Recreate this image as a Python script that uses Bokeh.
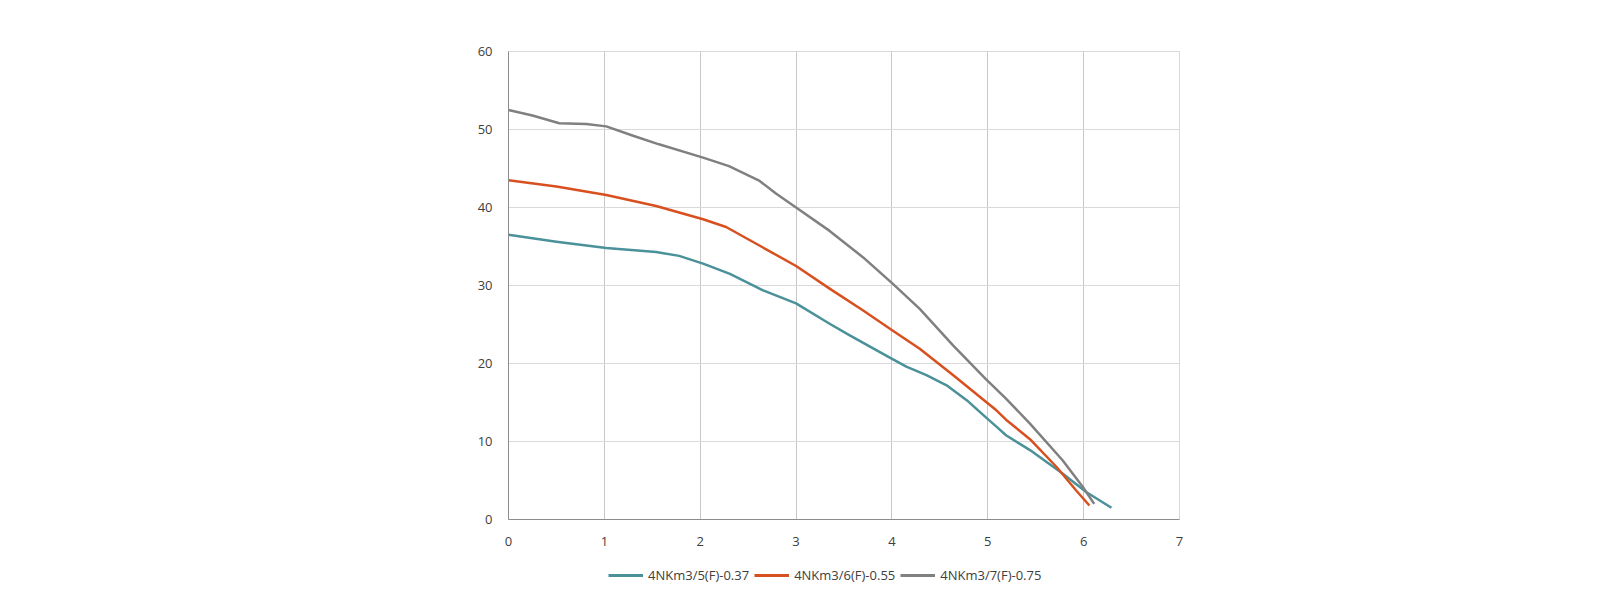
from bokeh.plotting import figure
from bokeh.models import Legend, LegendItem, Range1d, FixedTicker
from bokeh.layouts import column
from bokeh.embed import file_html
from bokeh.resources import INLINE

# Data
teal_x = [0, 0.5, 1.02, 1.54, 1.78, 2.03, 2.31, 2.65, 3.0, 3.35, 3.56, 3.94, 4.15, 4.36, 4.57, 4.78, 4.98, 5.09, 5.19, 5.44, 5.78, 6.03, 6.29]
teal_y = [36.5, 35.6, 34.8, 34.3, 33.8, 32.8, 31.5, 29.4, 27.7, 25.1, 23.6, 21.0, 19.6, 18.5, 17.2, 15.3, 13.1, 11.9, 10.8, 8.9, 5.9, 3.5, 1.5]

red_x = [0, 0.5, 1.02, 1.54, 2.03, 2.27, 2.65, 3.0, 3.35, 3.70, 4.01, 4.29, 4.64, 4.98, 5.09, 5.19, 5.44, 5.72, 5.92, 6.06]
red_y = [43.5, 42.7, 41.6, 40.2, 38.5, 37.5, 34.9, 32.5, 29.6, 26.8, 24.2, 21.9, 18.5, 15.1, 14.0, 12.8, 10.3, 6.7, 3.75, 1.8]

gray_x = [0, 0.25, 0.53, 0.81, 1.02, 1.30, 1.57, 2.03, 2.30, 2.62, 2.79, 3.0, 3.35, 3.70, 4.01, 4.29, 4.64, 4.98, 5.19, 5.44, 5.78, 5.99, 6.11]
gray_y = [52.5, 51.8, 50.8, 50.7, 50.4, 49.2, 48.1, 46.4, 45.3, 43.4, 41.8, 40.0, 37.0, 33.6, 30.2, 27.0, 22.3, 18.0, 15.5, 12.3, 7.6, 4.2, 2.0]

names = ["4NKm3/5(F)-0.37", "4NKm3/6(F)-0.55", "4NKm3/7(F)-0.75"]
colors = ["#4a9199", "#d8501f", "#808080"]
x_ticks = [0, 1, 2, 3, 4, 5, 6, 7]
y_ticks = [0, 10, 20, 30, 40, 50, 60]

FONT = "Open Sans"

p = figure(width=1584, height=560, output_backend="svg", toolbar_location=None,
           x_range=Range1d(0, 7), y_range=Range1d(0, 60),
           min_border_left=508, min_border_right=405, min_border_top=51, min_border_bottom=41)
p.outline_line_color = "#d9d9d9"

for ax in (p.xaxis[0], p.yaxis[0]):
    ax.major_tick_line_color = None
    ax.minor_tick_line_color = None
    ax.major_label_text_font = FONT
    ax.major_label_text_font_size = "13px"
    ax.major_label_text_color = "#404040"
    ax.axis_label_standoff = 0
p.xaxis.ticker = FixedTicker(ticks=x_ticks)
p.yaxis.ticker = FixedTicker(ticks=y_ticks)
p.xaxis.axis_line_color = "#8c8c8c"
p.yaxis.axis_line_color = "#8c8c8c"
p.xaxis.major_label_standoff = 11
p.yaxis.major_label_standoff = 10

p.xgrid.grid_line_color = "#c8c8c8"
p.ygrid.grid_line_color = "#d9d9d9"
p.xgrid.ticker = FixedTicker(ticks=x_ticks)
p.ygrid.ticker = FixedTicker(ticks=y_ticks)

p.line(teal_x, teal_y, line_color=colors[0], line_width=2.5, line_join="round")
p.line(red_x, red_y, line_color=colors[1], line_width=2.5, line_join="round")
p.line(gray_x, gray_y, line_color=colors[2], line_width=2.5, line_join="round")

# Legend strip below the chart
lg = figure(width=1584, height=40, output_backend="svg", toolbar_location=None,
            x_range=Range1d(0, 1), y_range=Range1d(0, 1),
            x_axis_location=None, y_axis_location=None,
            min_border_left=508, min_border_right=405, min_border_top=0, min_border_bottom=0)
lg.outline_line_color = None
lg.xgrid.visible = False
lg.ygrid.visible = False
items = []
nan = float("nan")
for name, c in zip(names, colors):
    r = lg.line(x=[nan], y=[nan], line_color=c, line_width=3)
    items.append(LegendItem(label=name, renderers=[r]))

legend = Legend(items=items, orientation="horizontal", location=(100, 15),
                label_text_font=FONT, label_text_font_size="13px",
                label_text_color="#404040",
                glyph_width=35, label_standoff=5, spacing=5,
                border_line_color=None, background_fill_alpha=0,
                margin=0, padding=0)
lg.add_layout(legend, "center")

layout = column(p, lg, spacing=0)
open("out.html", "w").write(file_html(layout, INLINE))
